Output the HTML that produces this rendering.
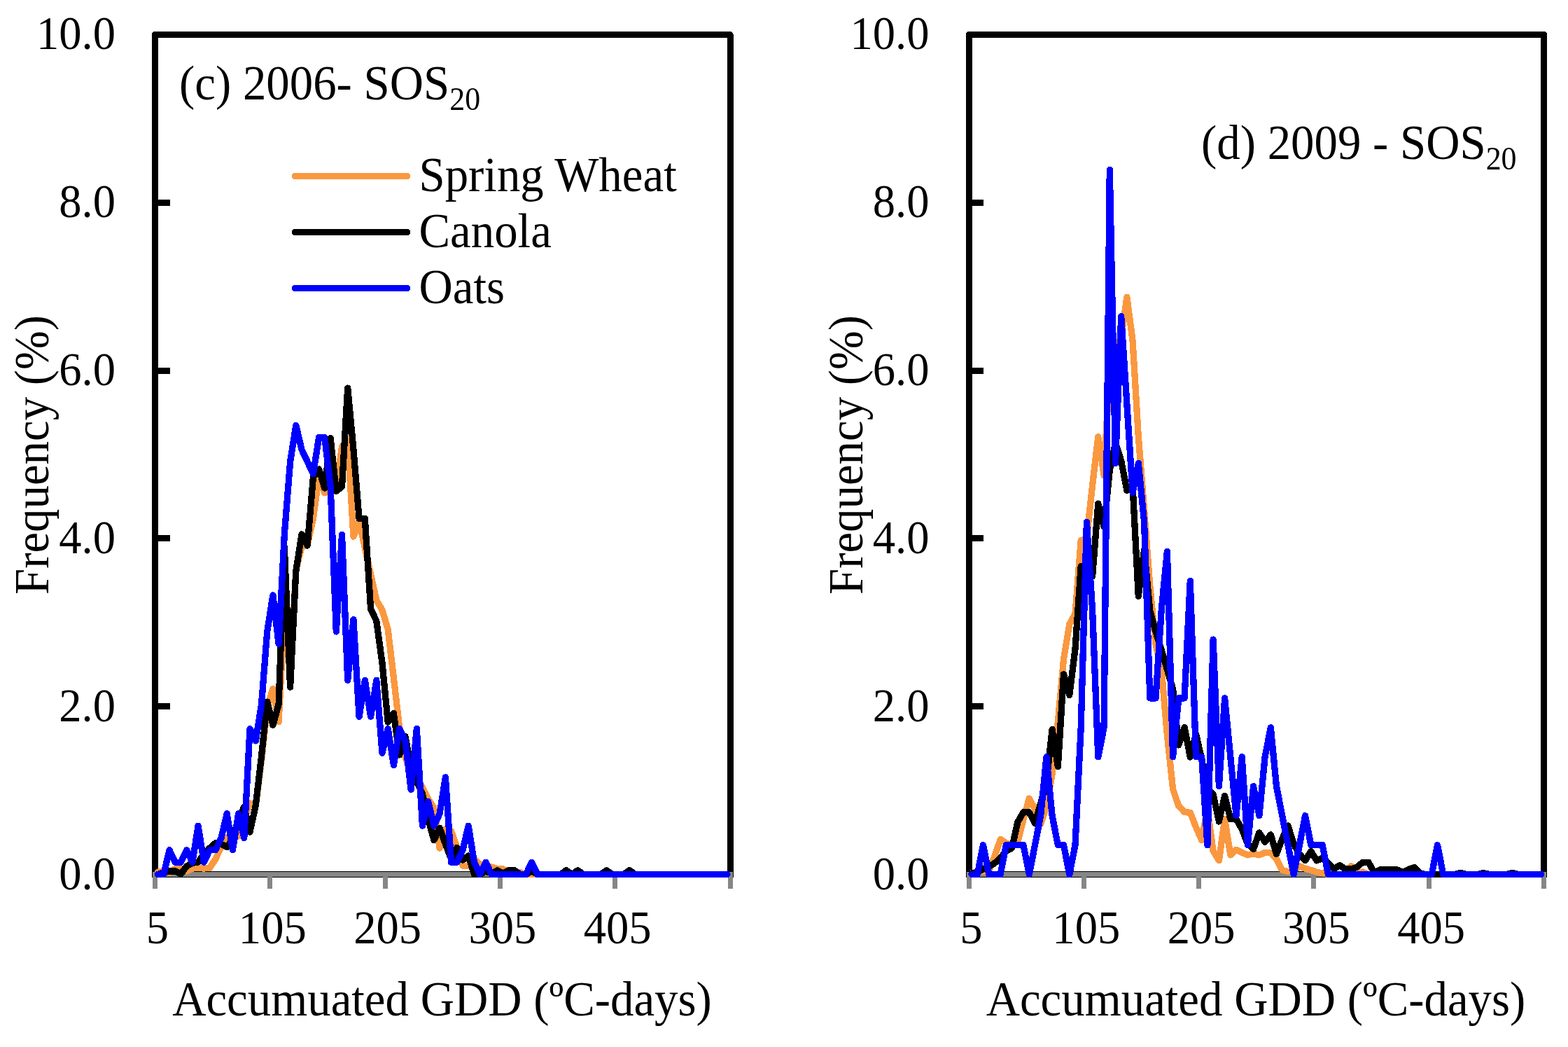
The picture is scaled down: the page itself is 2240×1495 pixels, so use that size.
<!DOCTYPE html>
<html><head><meta charset="utf-8"><title>Accumulated GDD frequency</title>
<style>html,body{margin:0;padding:0;background:#fff}svg{display:block}text{font-family:"Liberation Serif",serif;fill:#000}</style>
</head><body>
<svg width="2240" height="1495" viewBox="0 0 2240 1495" shape-rendering="crispEdges">
<rect width="2240" height="1495" fill="#fff"/>
<path d="M221.5,1253.0 L221.5,49.4 L1043.0,49.4 L1043.0,1253.0" fill="none" stroke="#000" stroke-width="9" stroke-linejoin="round"/>
<line x1="217.0" y1="1248.5" x2="1047.5" y2="1248.5" stroke="#000" stroke-width="9"/>
<line x1="218.0" y1="1248.5" x2="1046.5" y2="1248.5" stroke="#868686" stroke-width="7.4"/>
<line x1="221.5" y1="1248.5" x2="221.5" y2="1268.8" stroke="#868686" stroke-width="7"/>
<line x1="385.8" y1="1248.5" x2="385.8" y2="1268.8" stroke="#868686" stroke-width="7"/>
<line x1="550.1" y1="1248.5" x2="550.1" y2="1268.8" stroke="#868686" stroke-width="7"/>
<line x1="714.4" y1="1248.5" x2="714.4" y2="1268.8" stroke="#868686" stroke-width="7"/>
<line x1="878.7" y1="1248.5" x2="878.7" y2="1268.8" stroke="#868686" stroke-width="7"/>
<line x1="1043.0" y1="1248.5" x2="1043.0" y2="1268.8" stroke="#868686" stroke-width="7"/>
<line x1="221.5" y1="1008.7" x2="242.5" y2="1008.7" stroke="#000" stroke-width="9"/>
<line x1="221.5" y1="768.9" x2="242.5" y2="768.9" stroke="#000" stroke-width="9"/>
<line x1="221.5" y1="529.0" x2="242.5" y2="529.0" stroke="#000" stroke-width="9"/>
<line x1="221.5" y1="289.2" x2="242.5" y2="289.2" stroke="#000" stroke-width="9"/>
<text transform="translate(165.0,1269.5) scale(0.95,1)" text-anchor="end" font-size="68">0.0</text>
<text transform="translate(165.0,1029.7) scale(0.95,1)" text-anchor="end" font-size="68">2.0</text>
<text transform="translate(165.0,789.9) scale(0.95,1)" text-anchor="end" font-size="68">4.0</text>
<text transform="translate(165.0,550.0) scale(0.95,1)" text-anchor="end" font-size="68">6.0</text>
<text transform="translate(165.0,310.2) scale(0.95,1)" text-anchor="end" font-size="68">8.0</text>
<text transform="translate(165.0,70.4) scale(0.95,1)" text-anchor="end" font-size="68">10.0</text>
<text transform="translate(225.0,1347.0) scale(0.95,1)" text-anchor="middle" font-size="68">5</text>
<text transform="translate(389.3,1347.0) scale(0.95,1)" text-anchor="middle" font-size="68">105</text>
<text transform="translate(553.6,1347.0) scale(0.95,1)" text-anchor="middle" font-size="68">205</text>
<text transform="translate(717.9,1347.0) scale(0.95,1)" text-anchor="middle" font-size="68">305</text>
<text transform="translate(882.2,1347.0) scale(0.95,1)" text-anchor="middle" font-size="68">405</text>
<text transform="translate(631.5,1449.5) scale(0.955,1)" text-anchor="middle" font-size="70">Accumuated GDD (ºC-days)</text>
<text transform="translate(69.0,649.5) rotate(-90) scale(0.955,1)" text-anchor="middle" font-size="70">Frequency (%)</text>
<polyline points="225.6,1245.0 233.8,1245.0 242.0,1246.0 250.3,1240.5 258.5,1240.0 266.7,1244.0 274.9,1240.0 283.1,1239.4 291.3,1240.0 299.5,1239.4 307.8,1226.7 316.0,1209.6 324.2,1196.0 332.4,1195.0 340.6,1194.0 348.8,1170.0 357.0,1147.0 365.3,1151.0 373.5,1086.0 381.7,1010.0 389.9,983.5 398.1,1030.5 406.3,872.0 414.6,965.0 422.8,814.0 431.0,781.0 439.2,778.0 447.4,741.0 455.6,680.0 463.8,703.9 472.1,670.0 480.3,694.0 488.5,638.0 496.7,628.0 504.9,766.2 513.1,745.0 521.3,782.0 529.6,820.0 537.8,857.0 546.0,871.0 554.2,898.9 562.4,968.0 570.6,1038.0 578.9,1080.0 587.1,1105.0 595.3,1118.0 603.5,1124.0 611.7,1141.0 619.9,1153.3 628.1,1211.0 636.4,1183.9 644.6,1186.7 652.8,1209.6 661.0,1236.0 669.2,1236.7 677.4,1226.7 685.6,1233.9 693.9,1238.0 702.1,1238.0 710.3,1240.3 718.5,1241.0 726.7,1244.0 734.9,1245.0 743.2,1245.6 751.4,1248.5 759.6,1248.5 767.8,1248.5 776.0,1248.5 784.2,1248.5 792.4,1248.5 800.7,1248.5 808.9,1248.5 817.1,1248.5 825.3,1248.5 833.5,1248.5 841.7,1248.5 849.9,1248.5 858.2,1248.5 866.4,1248.5 874.6,1248.5 882.8,1248.5 891.0,1248.5 899.2,1248.5 907.5,1248.5 915.7,1248.5 923.9,1248.5 932.1,1248.5 940.3,1248.5 948.5,1248.5 956.7,1248.5 965.0,1248.5 973.2,1248.5 981.4,1248.5 989.6,1248.5 997.8,1248.5 1006.0,1248.5 1014.2,1248.5 1022.5,1248.5 1030.7,1248.5 1038.9,1248.5" fill="none" stroke="#FA9840" stroke-width="9.3" stroke-linejoin="round" stroke-linecap="round"/>
<polyline points="225.6,1248.5 233.8,1246.0 242.0,1243.9 250.3,1243.9 258.5,1248.0 266.7,1236.7 274.9,1232.4 283.1,1231.0 291.3,1219.6 299.5,1211.0 307.8,1203.9 316.0,1205.3 324.2,1209.6 332.4,1198.0 340.6,1170.0 348.8,1152.0 357.0,1188.0 365.3,1150.0 373.5,1080.0 381.7,1002.1 389.9,1035.5 398.1,1005.6 406.3,781.0 414.6,981.1 422.8,815.6 431.0,762.8 439.2,779.0 447.4,681.0 455.6,670.0 463.8,697.0 472.1,625.6 480.3,701.4 488.5,695.0 496.7,554.1 504.9,641.0 513.1,740.5 521.3,740.5 529.6,869.6 537.8,886.7 546.0,946.7 554.2,1031.0 562.4,1018.5 570.6,1078.0 578.9,1051.4 587.1,1095.0 595.3,1115.3 603.5,1133.9 611.7,1169.6 619.9,1199.6 628.1,1182.4 636.4,1205.3 644.6,1226.7 652.8,1210.4 661.0,1228.1 669.2,1221.9 677.4,1248.5 685.6,1248.5 693.9,1244.0 702.1,1247.0 710.3,1242.8 718.5,1247.0 726.7,1242.8 734.9,1242.8 743.2,1248.5 751.4,1248.5 759.6,1244.0 767.8,1248.5 776.0,1248.5 784.2,1248.5 792.4,1248.5 800.7,1248.5 808.9,1242.8 817.1,1248.5 825.3,1242.8 833.5,1248.5 841.7,1248.5 849.9,1248.5 858.2,1248.5 866.4,1242.8 874.6,1248.5 882.8,1248.5 891.0,1248.5 899.2,1242.8 907.5,1248.5 915.7,1248.5 923.9,1248.5 932.1,1248.5 940.3,1248.5 948.5,1248.5 956.7,1248.5 965.0,1248.5 973.2,1248.5 981.4,1248.5 989.6,1248.5 997.8,1248.5 1006.0,1248.5 1014.2,1248.5 1022.5,1248.5 1030.7,1248.5 1038.9,1248.5" fill="none" stroke="#000" stroke-width="9.3" stroke-linejoin="round" stroke-linecap="round"/>
<polyline points="225.6,1248.5 233.8,1248.5 242.0,1213.8 250.3,1231.2 258.5,1231.2 266.7,1213.8 274.9,1231.2 283.1,1179.2 291.3,1231.2 299.5,1213.8 307.8,1213.8 316.0,1196.5 324.2,1161.8 332.4,1213.8 340.6,1161.8 348.8,1196.5 357.0,1040.5 365.3,1057.9 373.5,1005.9 381.7,901.9 389.9,849.9 398.1,919.2 406.3,763.3 414.6,659.3 422.8,607.3 431.0,642.0 439.2,659.3 447.4,676.6 455.6,624.6 463.8,624.6 472.1,693.9 480.3,901.9 488.5,763.3 496.7,971.2 504.9,884.6 513.1,1023.2 521.3,971.2 529.6,1023.2 537.8,971.2 546.0,1075.2 554.2,1040.5 562.4,1092.5 570.6,1040.5 578.9,1057.9 587.1,1127.2 595.3,1040.5 603.5,1179.2 611.7,1144.5 619.9,1179.2 628.1,1161.8 636.4,1109.9 644.6,1231.2 652.8,1231.2 661.0,1213.8 669.2,1179.2 677.4,1231.2 685.6,1248.5 693.9,1231.2 702.1,1248.5 710.3,1248.5 718.5,1248.5 726.7,1248.5 734.9,1248.5 743.2,1248.5 751.4,1248.5 759.6,1231.2 767.8,1248.5 776.0,1248.5 784.2,1248.5 792.4,1248.5 800.7,1248.5 808.9,1248.5 817.1,1248.5 825.3,1248.5 833.5,1248.5 841.7,1248.5 849.9,1248.5 858.2,1248.5 866.4,1248.5 874.6,1248.5 882.8,1248.5 891.0,1248.5 899.2,1248.5 907.5,1248.5 915.7,1248.5 923.9,1248.5 932.1,1248.5 940.3,1248.5 948.5,1248.5 956.7,1248.5 965.0,1248.5 973.2,1248.5 981.4,1248.5 989.6,1248.5 997.8,1248.5 1006.0,1248.5 1014.2,1248.5 1022.5,1248.5 1030.7,1248.5 1038.9,1248.5" fill="none" stroke="#0000FF" stroke-width="9.3" stroke-linejoin="round" stroke-linecap="round"/>
<path d="M1384.0,1253.0 L1384.0,49.4 L2205.5,49.4 L2205.5,1253.0" fill="none" stroke="#000" stroke-width="9" stroke-linejoin="round"/>
<line x1="1379.5" y1="1248.5" x2="2210.0" y2="1248.5" stroke="#000" stroke-width="9"/>
<line x1="1380.5" y1="1248.5" x2="2209.0" y2="1248.5" stroke="#868686" stroke-width="7.4"/>
<line x1="1384.0" y1="1248.5" x2="1384.0" y2="1268.8" stroke="#868686" stroke-width="7"/>
<line x1="1548.3" y1="1248.5" x2="1548.3" y2="1268.8" stroke="#868686" stroke-width="7"/>
<line x1="1712.6" y1="1248.5" x2="1712.6" y2="1268.8" stroke="#868686" stroke-width="7"/>
<line x1="1876.9" y1="1248.5" x2="1876.9" y2="1268.8" stroke="#868686" stroke-width="7"/>
<line x1="2041.2" y1="1248.5" x2="2041.2" y2="1268.8" stroke="#868686" stroke-width="7"/>
<line x1="2205.5" y1="1248.5" x2="2205.5" y2="1268.8" stroke="#868686" stroke-width="7"/>
<line x1="1384.0" y1="1008.7" x2="1405.0" y2="1008.7" stroke="#000" stroke-width="9"/>
<line x1="1384.0" y1="768.9" x2="1405.0" y2="768.9" stroke="#000" stroke-width="9"/>
<line x1="1384.0" y1="529.0" x2="1405.0" y2="529.0" stroke="#000" stroke-width="9"/>
<line x1="1384.0" y1="289.2" x2="1405.0" y2="289.2" stroke="#000" stroke-width="9"/>
<text transform="translate(1327.5,1269.5) scale(0.95,1)" text-anchor="end" font-size="68">0.0</text>
<text transform="translate(1327.5,1029.7) scale(0.95,1)" text-anchor="end" font-size="68">2.0</text>
<text transform="translate(1327.5,789.9) scale(0.95,1)" text-anchor="end" font-size="68">4.0</text>
<text transform="translate(1327.5,550.0) scale(0.95,1)" text-anchor="end" font-size="68">6.0</text>
<text transform="translate(1327.5,310.2) scale(0.95,1)" text-anchor="end" font-size="68">8.0</text>
<text transform="translate(1327.5,70.4) scale(0.95,1)" text-anchor="end" font-size="68">10.0</text>
<text transform="translate(1387.5,1347.0) scale(0.95,1)" text-anchor="middle" font-size="68">5</text>
<text transform="translate(1551.8,1347.0) scale(0.95,1)" text-anchor="middle" font-size="68">105</text>
<text transform="translate(1716.1,1347.0) scale(0.95,1)" text-anchor="middle" font-size="68">205</text>
<text transform="translate(1880.4,1347.0) scale(0.95,1)" text-anchor="middle" font-size="68">305</text>
<text transform="translate(2044.7,1347.0) scale(0.95,1)" text-anchor="middle" font-size="68">405</text>
<text transform="translate(1794.0,1449.5) scale(0.955,1)" text-anchor="middle" font-size="70">Accumuated GDD (ºC-days)</text>
<text transform="translate(1231.5,649.5) rotate(-90) scale(0.955,1)" text-anchor="middle" font-size="70">Frequency (%)</text>
<polyline points="1388.1,1246.7 1396.3,1244.6 1404.5,1243.9 1412.8,1243.9 1421.0,1222.4 1429.2,1198.3 1437.4,1203.9 1445.6,1206.7 1453.8,1202.4 1462.0,1169.6 1470.3,1140.1 1478.5,1155.3 1486.7,1176.7 1494.9,1152.4 1503.1,1105.3 1511.3,1031.3 1519.5,941.2 1527.8,891.2 1536.0,876.7 1544.2,771.8 1552.4,768.0 1560.6,693.0 1568.8,623.5 1577.1,678.7 1585.3,522.0 1593.5,500.0 1601.7,482.0 1609.9,424.2 1618.1,486.8 1626.3,623.0 1634.6,728.0 1642.8,837.0 1651.0,920.0 1659.2,955.0 1667.4,1050.0 1675.6,1126.7 1683.8,1151.0 1692.1,1159.6 1700.3,1160.3 1708.5,1181.0 1716.7,1199.6 1724.9,1155.0 1733.1,1215.0 1741.4,1228.8 1749.6,1169.6 1757.8,1220.9 1766.0,1213.3 1774.2,1217.4 1782.4,1220.9 1790.6,1218.9 1798.9,1220.9 1807.1,1217.4 1815.3,1217.4 1823.5,1226.7 1831.7,1242.4 1839.9,1244.6 1848.1,1243.9 1856.4,1236.7 1864.6,1240.3 1872.8,1242.4 1881.0,1245.3 1889.2,1246.7 1897.4,1248.5 1905.7,1248.5 1913.9,1248.5 1922.1,1248.5 1930.3,1236.6 1938.5,1248.0 1946.7,1245.0 1954.9,1248.5 1963.2,1248.5 1971.4,1248.5 1979.6,1248.5 1987.8,1248.5 1996.0,1248.5 2004.2,1248.5 2012.4,1248.5 2020.7,1248.5 2028.9,1248.5 2037.1,1248.5 2045.3,1248.5 2053.5,1248.5 2061.7,1248.5 2070.0,1248.5 2078.2,1248.5 2086.4,1248.5 2094.6,1248.5 2102.8,1248.5 2111.0,1248.5 2119.2,1248.5 2127.5,1248.5 2135.7,1248.5 2143.9,1248.5 2152.1,1248.5 2160.3,1248.5 2168.5,1248.5 2176.7,1248.5 2185.0,1248.5 2193.2,1248.5 2201.4,1248.5" fill="none" stroke="#FA9840" stroke-width="9.3" stroke-linejoin="round" stroke-linecap="round"/>
<polyline points="1388.1,1247.0 1396.3,1245.3 1404.5,1241.0 1412.8,1237.4 1421.0,1232.4 1429.2,1225.3 1437.4,1215.0 1445.6,1211.0 1453.8,1173.9 1462.0,1159.7 1470.3,1159.7 1478.5,1175.9 1486.7,1147.0 1494.9,1117.0 1503.1,1041.5 1511.3,1094.5 1519.5,962.8 1527.8,992.6 1536.0,926.9 1544.2,808.6 1552.4,820.0 1560.6,823.0 1568.8,719.1 1577.1,752.5 1585.3,671.5 1593.5,632.0 1601.7,658.0 1609.9,700.5 1618.1,694.0 1626.3,851.3 1634.6,785.0 1642.8,872.0 1651.0,902.0 1659.2,928.0 1667.4,956.0 1675.6,984.0 1683.8,1063.9 1692.1,1038.6 1700.3,1081.0 1708.5,1048.0 1716.7,1084.0 1724.9,1127.0 1733.1,1134.0 1741.4,1173.0 1749.6,1136.2 1757.8,1169.6 1766.0,1169.6 1774.2,1184.0 1782.4,1205.0 1790.6,1212.3 1798.9,1189.0 1807.1,1202.3 1815.3,1191.9 1823.5,1219.4 1831.7,1198.0 1839.9,1179.0 1848.1,1205.0 1856.4,1219.6 1864.6,1228.8 1872.8,1215.5 1881.0,1228.8 1889.2,1225.4 1897.4,1232.4 1905.7,1241.0 1913.9,1235.5 1922.1,1241.0 1930.3,1241.0 1938.5,1238.2 1946.7,1231.2 1954.9,1231.2 1963.2,1245.7 1971.4,1242.0 1979.6,1242.0 1987.8,1242.0 1996.0,1242.0 2004.2,1245.7 2012.4,1241.3 2020.7,1238.6 2028.9,1247.5 2037.1,1248.5 2045.3,1248.5 2053.5,1248.5 2061.7,1248.5 2070.0,1248.5 2078.2,1248.5 2086.4,1246.5 2094.6,1248.5 2102.8,1248.5 2111.0,1248.5 2119.2,1246.5 2127.5,1248.5 2135.7,1248.5 2143.9,1248.5 2152.1,1248.5 2160.3,1246.5 2168.5,1248.5 2176.7,1248.5 2185.0,1248.5 2193.2,1248.5 2201.4,1248.5" fill="none" stroke="#000" stroke-width="9.3" stroke-linejoin="round" stroke-linecap="round"/>
<polyline points="1388.1,1248.5 1396.3,1248.5 1404.5,1206.6 1412.8,1248.5 1421.0,1248.5 1429.2,1248.5 1437.4,1206.6 1445.6,1206.6 1453.8,1206.6 1462.0,1206.6 1470.3,1248.5 1478.5,1206.6 1486.7,1164.6 1494.9,1080.8 1503.1,1164.6 1511.3,1206.6 1519.5,1206.6 1527.8,1248.5 1536.0,1206.6 1544.2,1038.8 1552.4,745.3 1560.6,871.1 1568.8,1080.8 1577.1,1038.8 1585.3,242.2 1593.5,661.5 1601.7,451.8 1609.9,577.6 1618.1,703.4 1626.3,661.5 1634.6,745.3 1642.8,996.9 1651.0,996.9 1659.2,871.1 1667.4,787.3 1675.6,1080.8 1683.8,996.9 1692.1,996.9 1700.3,829.2 1708.5,1080.8 1716.7,1080.8 1724.9,1206.6 1733.1,913.1 1741.4,1122.7 1749.6,996.9 1757.8,1080.8 1766.0,1164.6 1774.2,1080.8 1782.4,1206.6 1790.6,1122.7 1798.9,1164.6 1807.1,1080.8 1815.3,1038.8 1823.5,1122.7 1831.7,1164.6 1839.9,1206.6 1848.1,1248.5 1856.4,1206.6 1864.6,1164.6 1872.8,1206.6 1881.0,1206.6 1889.2,1206.6 1897.4,1248.5 1905.7,1248.5 1913.9,1248.5 1922.1,1248.5 1930.3,1248.5 1938.5,1248.5 1946.7,1248.5 1954.9,1248.5 1963.2,1248.5 1971.4,1248.5 1979.6,1248.5 1987.8,1248.5 1996.0,1248.5 2004.2,1248.5 2012.4,1248.5 2020.7,1248.5 2028.9,1248.5 2037.1,1248.5 2045.3,1248.5 2053.5,1206.6 2061.7,1248.5 2070.0,1248.5 2078.2,1248.5 2086.4,1248.5 2094.6,1248.5 2102.8,1248.5 2111.0,1248.5 2119.2,1248.5 2127.5,1248.5 2135.7,1248.5 2143.9,1248.5 2152.1,1248.5 2160.3,1248.5 2168.5,1248.5 2176.7,1248.5 2185.0,1248.5 2193.2,1248.5 2201.4,1248.5" fill="none" stroke="#0000FF" stroke-width="9.3" stroke-linejoin="round" stroke-linecap="round"/>
<text transform="translate(256.0,141.5) scale(0.955,1)" text-anchor="start" font-size="70">(c) 2006- SOS<tspan font-size="46" dy="15">20</tspan></text>
<text transform="translate(1716.0,227.0) scale(0.955,1)" text-anchor="start" font-size="70">(d) 2009 - SOS<tspan font-size="46" dy="15">20</tspan></text>
<line x1="421" y1="251.5" x2="582" y2="251.5" stroke="#FA9840" stroke-width="9" stroke-linecap="round"/>
<text transform="translate(598.5,272.5) scale(0.955,1)" text-anchor="start" font-size="70">Spring Wheat</text>
<line x1="421" y1="331.5" x2="582" y2="331.5" stroke="#000" stroke-width="9" stroke-linecap="round"/>
<text transform="translate(598.5,352.5) scale(0.955,1)" text-anchor="start" font-size="70">Canola</text>
<line x1="421" y1="411.5" x2="582" y2="411.5" stroke="#0000FF" stroke-width="9" stroke-linecap="round"/>
<text transform="translate(598.5,432.5) scale(0.955,1)" text-anchor="start" font-size="70">Oats</text>
</svg>
</body></html>
